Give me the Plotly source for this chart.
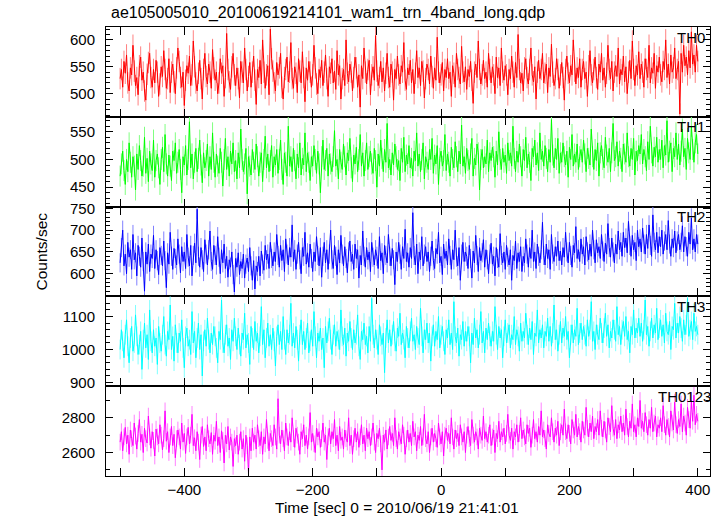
import plotly.graph_objects as go
from plotly.subplots import make_subplots

title_text = "ae105005010_20100619214101_wam1_trn_4band_long.qdp"
band_labels = ["TH0", "TH1", "TH2", "TH3", "TH0123"]
x_tick_vals = [-500, -400, -300, -200, -100, 0, 100, 200, 300, 400]
x_tick_text = ["", "\u2212400", "", "\u2212200", "", "0", "", "200", "", "400"]
bin_start = -500
bin_width = 2

th0 = [528, 545, 512, 560, 538, 572, 520, 505, 548, 535, 590, 542, 515, 530, 498,
       552, 568, 525, 540, 505, 488, 536, 558, 575, 530, 512, 545, 520, 562, 540,
       495, 518, 550, 532, 580, 545, 510, 528, 565, 502, 540, 555, 522, 500, 548,
       585, 560, 530, 512, 540, 478, 525, 552, 538, 570, 515, 535, 598, 550, 520,
       505, 538, 562, 528, 490, 545, 575, 532, 518, 555, 540, 510, 582, 548, 525,
       540, 500, 520, 565, 538, 552, 495, 530, 612, 545, 522, 508, 550, 575, 535,
       515, 548, 528, 492, 560, 540, 520, 585, 545, 505, 532, 558, 512, 540, 570,
       525, 480, 545, 530, 562, 518, 600, 540, 510, 535, 552, 498, 620, 565, 542,
       520, 505, 558, 535, 548, 575, 512, 490, 530, 545, 568, 522, 540, 595, 528,
       510, 550, 538, 502, 565, 542, 520, 578, 530, 485, 548, 525, 560, 540, 512,
       535, 590, 548, 518, 500, 545, 530, 562, 515, 540, 572, 528, 495, 550, 538,
       565, 520, 542, 508, 580, 535, 552, 490, 528, 545, 515, 600, 538, 522, 555,
       540, 505, 530, 568, 548, 512, 535, 475, 552, 528, 585, 540, 518, 545, 562,
       498, 535, 550, 525, 608, 542, 515, 530, 560, 522, 548, 505, 538, 575, 530,
       512, 555, 540, 488, 545, 528, 570, 535, 518, 552, 540, 595, 525, 508, 548,
       535, 562, 520, 545, 500, 538, 580, 530, 548, 515, 560, 542, 492, 528, 555,
       545, 518, 570, 532, 510, 548, 525, 605, 540, 520, 535, 558, 505, 545, 530,
       565, 528, 540, 495, 552, 538, 512, 575, 545, 530, 518, 588, 540, 522, 550,
       508, 545, 532, 560, 525, 482, 540, 555, 530, 598, 545, 518, 535, 562, 528,
       540, 512, 575, 545, 520, 550, 535, 500, 568, 530, 548, 515, 585, 540, 525,
       552, 535, 498, 545, 528, 570, 540, 512, 558, 530, 610, 545, 520, 538, 505,
       548, 565, 530, 518, 545, 585, 535, 522, 550, 490, 540, 562, 528, 545, 575,
       520, 538, 555, 502, 548, 532, 592, 540, 515, 528, 565, 545, 510, 535, 558,
       530, 488, 545, 570, 538, 520, 552, 535, 600, 542, 518, 548, 530, 565, 512,
       545, 560, 528, 540, 495, 552, 580, 535, 520, 545, 568, 530, 508, 555, 540,
       575, 525, 548, 512, 538, 590, 545, 528, 560, 505, 540, 552, 532, 585, 518,
       545, 535, 570, 522, 550, 500, 540, 562, 528, 598, 545, 515, 552, 535, 578,
       528, 555, 540, 512, 565, 545, 530, 590, 520, 548, 538, 575, 510, 552, 540,
       568, 535, 522, 560, 545, 600, 530, 555, 518, 572, 540, 548, 585, 528, 545,
       560, 462, 575, 540, 590, 552, 568, 535, 580, 548, 615, 555, 572, 540, 590,
       560]

th1 = [470, 492, 515, 480, 455, 500, 478, 530, 495, 468, 505, 488, 445, 510, 482,
       525, 498, 470, 488, 540, 475, 502, 460, 515, 492, 480, 535, 468, 498, 510,
       485, 455, 500, 522, 478, 545, 492, 470, 508, 488, 462, 515, 498, 530, 475,
       495, 518, 482, 440, 505, 490, 525, 472, 500, 568, 485, 510, 465, 495, 520,
       478, 502, 535, 490, 458, 512, 485, 498, 528, 470, 505, 482, 548, 495, 468,
       510, 488, 475, 520, 495, 452, 500, 538, 482, 505, 470, 515, 492, 530, 478,
       498, 465, 512, 485, 555, 500, 478, 492, 520, 438, 505, 488, 472, 518, 495,
       482, 528, 505, 470, 495, 512, 460, 500, 542, 485, 510, 478, 498, 525, 468,
       505, 490, 518, 475, 500, 535, 482, 455, 512, 495, 470, 560, 488, 505, 478,
       520, 498, 465, 510, 485, 530, 472, 502, 490, 548, 478, 512, 495, 462, 505,
       488, 525, 500, 475, 515, 492, 440, 505, 535, 482, 498, 520, 470, 510, 492,
       478, 505, 552, 488, 500, 465, 518, 495, 482, 528, 505, 472, 512, 498, 538,
       485, 460, 508, 492, 522, 478, 500, 545, 488, 512, 470, 498, 530, 482, 505,
       515, 492, 475, 520, 498, 450, 510, 488, 535, 502, 478, 518, 495, 565, 485,
       500, 472, 512, 490, 528, 505, 482, 498, 462, 520, 495, 540, 478, 508, 492,
       525, 485, 502, 470, 515, 498, 548, 488, 510, 478, 500, 530, 465, 505, 495,
       482, 518, 500, 538, 475, 508, 492, 525, 455, 502, 515, 488, 498, 545, 480,
       510, 495, 470, 522, 500, 485, 532, 505, 478, 515, 492, 562, 488, 505, 475,
       520, 498, 482, 510, 538, 470, 502, 490, 528, 512, 445, 500, 518, 485, 505,
       492, 535, 478, 512, 498, 522, 505, 468, 515, 490, 550, 500, 482, 520, 495,
       508, 475, 530, 498, 512, 488, 560, 502, 478, 515, 495, 528, 505, 470, 518,
       498, 540, 485, 510, 495, 462, 520, 505, 535, 490, 512, 480, 548, 500, 515,
       488, 525, 502, 478, 518, 495, 572, 508, 485, 520, 500, 538, 475, 512, 495,
       530, 505, 490, 515, 468, 522, 500, 545, 488, 510, 495, 528, 482, 505, 518,
       495, 535, 510, 478, 520, 502, 490, 555, 505, 482, 518, 498, 530, 470, 512,
       525, 500, 485, 540, 508, 495, 520, 478, 512, 565, 498, 505, 532, 488, 515,
       502, 478, 528, 510, 495, 548, 505, 488, 520, 500, 538, 472, 515, 498, 525,
       510, 545, 492, 518, 505, 480, 532, 500, 560, 512, 488, 522, 505, 540, 495,
       518, 500, 535, 485, 525, 508, 570, 495, 515, 530, 478, 520, 505, 548, 500,
       528, 490, 515, 555, 505, 520, 482, 538, 512, 500, 560, 518, 495, 530, 545,
       510]

th2 = [625, 660, 700, 618, 645, 600, 672, 638, 655, 610, 690, 632, 648, 595, 665,
       640, 615, 682, 628, 560, 650, 622, 668, 605, 645, 635, 688, 612, 655, 630,
       598, 660, 642, 618, 675, 630, 568, 648, 622, 695, 640, 610, 658, 635, 620,
       680, 645, 602, 662, 628, 650, 612, 690, 638, 618, 665, 595, 642, 670, 625,
       748, 640, 615, 660, 632, 605, 678, 645, 620, 655, 698, 628, 610, 665, 642,
       620, 685, 638, 600, 655, 625, 668, 612, 640, 592, 632, 615, 650, 598, 558,
       635, 615, 648, 598, 628, 612, 645, 590, 622, 636, 605, 660, 618, 585, 630,
       565, 618, 605, 640, 595, 652, 622, 608, 665, 632, 645, 612, 672, 635, 618,
       650, 628, 690, 642, 615, 665, 630, 655, 605, 680, 645, 620, 660, 638, 712,
       628, 655, 610, 645, 672, 632, 600, 660, 640, 695, 622, 648, 615, 668, 635,
       605, 650, 628, 685, 642, 618, 660, 592, 640, 672, 625, 655, 610, 645, 700,
       632, 612, 665, 640, 598, 655, 625, 688, 645, 618, 662, 635, 602, 650, 675,
       628, 645, 610, 668, 635, 655, 590, 642, 620, 698, 640, 615, 660, 632, 650,
       605, 672, 638, 620, 655, 640, 612, 685, 630, 648, 600, 665, 642, 625, 690,
       640, 618, 658, 632, 575, 650, 628, 672, 645, 610, 662, 635, 702, 628, 648,
       615, 660, 635, 740, 642, 620, 668, 600, 650, 632, 685, 618, 645, 662, 628,
       650, 605, 640, 675, 630, 612, 658, 645, 695, 625, 640, 598, 668, 635, 652,
       620, 680, 642, 610, 655, 632, 700, 638, 618, 660, 585, 645, 672, 628, 650,
       640, 612, 665, 635, 590, 652, 625, 688, 642, 605, 660, 630, 648, 678, 615,
       655, 632, 600, 645, 670, 622, 640, 595, 660, 635, 615, 692, 642, 625, 650,
       610, 665, 638, 620, 655, 585, 642, 630, 675, 612, 648, 628, 662, 605, 640,
       625, 680, 645, 615, 660, 635, 700, 628, 650, 612, 668, 640, 625, 655, 718,
       642, 620, 668, 635, 655, 610, 690, 645, 628, 662, 640, 675, 630, 652, 620,
       660, 638, 695, 650, 625, 672, 642, 615, 665, 648, 708, 635, 655, 628, 680,
       645, 662, 620, 685, 650, 632, 668, 640, 700, 655, 625, 678, 648, 662, 635,
       690, 652, 628, 670, 645, 715, 660, 638, 682, 650, 625, 668, 645, 698, 655,
       672, 640, 695, 660, 682, 648, 720, 665, 640, 688, 655, 672, 630, 700, 662,
       680, 650, 705, 668, 645, 690, 658, 712, 665, 640, 735, 672, 655, 695, 648,
       685, 662, 700, 645, 675, 690, 655, 722, 668, 640, 680, 660, 698, 648, 675,
       690, 655, 672, 710, 650, 685, 662, 640, 695, 668, 728, 655, 680, 650, 690,
       668]

th3 = [1000, 1060, 1025, 975, 1045, 1090, 1010, 960, 1035, 1070, 995, 1020, 1105, 1040, 985,
       1015, 1055, 940, 1030, 1080, 1005, 1045, 970, 1120, 1025, 990, 1060, 1010, 1035, 955,
       1070, 1020, 995, 1045, 1100, 1015, 980, 1055, 1030, 1135, 1000, 1040, 965, 1075, 1020,
       990, 1050, 1025, 1090, 1005, 945, 1040, 1065, 1010, 1030, 985, 1115, 1020, 1055, 975,
       1035, 1080, 1000, 1045, 920, 1025, 1060, 1010, 1095, 1030, 990, 1050, 1015, 1070, 1040,
       1005, 960, 1055, 1030, 1150, 1020, 990, 1045, 1075, 1010, 1035, 970, 1060, 1025, 1095,
       1040, 1000, 1065, 1015, 980, 1050, 1030, 1110, 1005, 1045, 1020, 955, 1070, 1035, 1000,
       1085, 1025, 1050, 990, 1040, 1130, 1015, 1060, 975, 1035, 1080, 1010, 1045, 1000, 1065,
       1025, 950, 1040, 1075, 1015, 1055, 1000, 1100, 1030, 985, 1060, 1020, 1045, 1140, 1010,
       1050, 1005, 1070, 1030, 965, 1045, 1090, 1015, 1055, 1000, 1035, 1080, 990, 1025, 1060,
       1010, 1115, 1040, 975, 1050, 1025, 1065, 1000, 1035, 945, 1070, 1020, 1055, 1095, 1030,
       985, 1045, 1075, 1010, 1055, 1030, 1000, 1120, 1040, 1015, 1065, 980, 1050, 1025, 1085,
       1035, 1000, 1060, 1020, 1045, 1105, 1010, 970, 1055, 1030, 1080, 1015, 1040, 990, 1070,
       1025, 1155, 1045, 1005, 1060, 1030, 985, 1075, 1040, 1015, 1050, 930, 1035, 1090, 1020,
       1060, 1010, 1045, 1085, 1025, 995, 1065, 1040, 1110, 1015, 1050, 1030, 975, 1070, 1035,
       1005, 1055, 1095, 1025, 1045, 1000, 1070, 1035, 1015, 1125, 1040, 990, 1060, 1030, 1080,
       1020, 1050, 965, 1040, 1075, 1010, 1055, 1030, 1100, 1005, 1045, 1070, 1025, 985, 1060,
       1035, 1090, 1015, 1050, 1000, 1145, 1040, 1020, 1065, 980, 1045, 1030, 1085, 1010, 1055,
       1025, 1070, 1040, 960, 1050, 1015, 1095, 1035, 1060, 1005, 1045, 1115, 1020, 1055, 990,
       1065, 1030, 1080, 1040, 1010, 1055, 1025, 1130, 1045, 1000, 1070, 1035, 1060, 975, 1040,
       1090, 1020, 1050, 1075, 1005, 1045, 1030, 1100, 1015, 1060, 1040, 995, 1080, 1025, 1055,
       1035, 1110, 1045, 1015, 1065, 1030, 1085, 985, 1050, 1040, 1120, 1020, 1060, 1035, 1075,
       1005, 1055, 1040, 1095, 1025, 1070, 1010, 1050, 1135, 1030, 1060, 995, 1045, 1085, 1020,
       1065, 1040, 1100, 1030, 1055, 975, 1045, 1075, 1020, 1060, 1040, 1125, 1015, 1050, 1080,
       1030, 1070, 1045, 1010, 1090, 1040, 1060, 1145, 1025, 1055, 1000, 1075, 1045, 1030, 1095,
       1050, 1020, 1065, 1110, 1040, 1075, 1005, 1055, 1035, 1090, 1060, 1025, 1130, 1045, 1070,
       1015, 1060, 1085, 1040, 1100, 1030, 1055, 990, 1070, 1045, 1120, 1035, 1065, 1050, 1095,
       1040, 1080, 1025, 1060, 1150, 1045, 1070, 1010, 1055, 1095, 1035, 1075, 1050, 1125, 1030,
       1065, 1090, 1040, 1075, 1020, 1110, 1055, 1045, 1085, 1000, 1070, 1060, 1140, 1035, 1080,
       1050, 1100, 1065, 1025, 1090, 1045, 1075, 1155, 1040, 1060, 1085, 1030, 1110, 1055, 1070,
       1045]

th0123 = [2660, 2720, 2610, 2690, 2745, 2650, 2700, 2590, 2730, 2680, 2640, 2770, 2695, 2620, 2710,
          2790, 2660, 2705, 2600, 2740, 2680, 2655, 2810, 2690, 2625, 2720, 2670, 2580, 2735, 2690,
          2650, 2760, 2700, 2615, 2680, 2840, 2665, 2720, 2600, 2690, 2750, 2640, 2705, 2570, 2680,
          2730, 2690, 2620, 2770, 2660, 2710, 2595, 2690, 2745, 2650, 2700, 2820, 2640, 2685, 2610,
          2720, 2660, 2560, 2700, 2750, 2635, 2690, 2610, 2760, 2680, 2650, 2715, 2590, 2700, 2665,
          2780, 2640, 2690, 2600, 2725, 2670, 2540, 2700, 2650, 2750, 2615, 2690, 2660, 2520, 2680,
          2640, 2700, 2590, 2660, 2720, 2620, 2680, 2550, 2700, 2640, 2480, 2690, 2610, 2740, 2660,
          2700, 2620, 2760, 2680, 2640, 2720, 2590, 2690, 2650, 2790, 2670, 2610, 2710, 2680, 2640,
          2760, 2690, 2620, 2910, 2700, 2650, 2730, 2680, 2610, 2770, 2690, 2640, 2720, 2660, 2800,
          2680, 2630, 2740, 2700, 2660, 2590, 2720, 2680, 2760, 2640, 2700, 2620, 2690, 2830, 2660,
          2710, 2650, 2600, 2740, 2690, 2720, 2630, 2680, 2770, 2660, 2700, 2560, 2690, 2740, 2650,
          2720, 2680, 2790, 2640, 2700, 2610, 2750, 2670, 2690, 2620, 2730, 2680, 2660, 2800, 2640,
          2700, 2590, 2680, 2740, 2660, 2720, 2630, 2690, 2760, 2650, 2700, 2610, 2740, 2680, 2720,
          2640, 2690, 2770, 2660, 2600, 2710, 2680, 2740, 2650, 2500, 2700, 2660, 2730, 2620, 2690,
          2750, 2670, 2710, 2640, 2800, 2680, 2620, 2720, 2690, 2650, 2760, 2700, 2590, 2680, 2730,
          2660, 2710, 2640, 2780, 2690, 2720, 2610, 2700, 2670, 2750, 2640, 2690, 2820, 2680, 2650,
          2720, 2600, 2690, 2740, 2660, 2710, 2680, 2630, 2770, 2690, 2650, 2720, 2580, 2700, 2740,
          2670, 2710, 2650, 2800, 2690, 2620, 2730, 2680, 2710, 2640, 2760, 2690, 2660, 2720, 2600,
          2700, 2750, 2680, 2640, 2790, 2700, 2660, 2720, 2690, 2620, 2740, 2700, 2670, 2810, 2680,
          2720, 2660, 2700, 2760, 2640, 2690, 2730, 2600, 2710, 2680, 2780, 2660, 2720, 2690, 2740,
          2650, 2710, 2820, 2700, 2670, 2740, 2620, 2720, 2690, 2760, 2660, 2710, 2800, 2680, 2730,
          2690, 2650, 2760, 2710, 2740, 2630, 2700, 2790, 2680, 2720, 2660, 2750, 2700, 2840, 2690,
          2730, 2680, 2620, 2760, 2710, 2690, 2800, 2720, 2660, 2740, 2700, 2780, 2640, 2720, 2760,
          2700, 2850, 2720, 2680, 2760, 2710, 2650, 2790, 2730, 2700, 2820, 2690, 2750, 2720, 2660,
          2780, 2730, 2700, 2860, 2740, 2690, 2770, 2720, 2810, 2680, 2750, 2720, 2790, 2700, 2840,
          2740, 2690, 2780, 2730, 2660, 2800, 2750, 2720, 2870, 2740, 2700, 2790, 2680, 2760, 2730,
          2810, 2720, 2770, 2700, 2850, 2750, 2690, 2780, 2740, 2880, 2720, 2760, 2690, 2800, 2750,
          2900, 2740, 2780, 2720, 2830, 2760, 2700, 2790, 2740, 2860, 2720, 2770, 2810, 2690, 2760,
          2740, 2800, 2720, 2870, 2760, 2700, 2790, 2750, 2690, 2840, 2770, 2730, 2890, 2760, 2710,
          2790, 2750, 2880, 2720, 2810, 2770, 2700, 2860, 2790, 2740, 2900, 2780, 2930, 2760, 2820,
          2780]

band_errors = [20, 19, 22, 30, 48]

series = [th0, th1, th2, th3, th0123]

line_colors = ["#ff0000", "#00ff00", "#0000ff", "#00ffff", "#ff00ff"]
err_colors = ["#ff8080", "#80ff80", "#8080ff", "#80ffff", "#ff80ff"]
y_ranges = [[457, 624], [415, 577], [548, 754], [889, 1161], [2465, 2982]]
y_major = [[500, 550, 600], [450, 500, 550], [600, 650, 700, 750], [900, 1000, 1100], [2600, 2800]]
y_minor = [10, 10, 10, 20, 100]
label_x = [364, 364, 364, 364, 335]

FONT = "Liberation Sans, Arial, Helvetica, sans-serif"

fig = make_subplots(rows=5, cols=1, shared_xaxes=True, vertical_spacing=0)

for i in range(5):
    time_sec = [bin_start + bin_width * k for k in range(len(series[i]))]
    # lighter error bars underneath
    fig.add_trace(go.Scatter(
        x=time_sec, y=series[i], mode="markers",
        marker=dict(size=1, color=err_colors[i], opacity=0),
        error_y=dict(type="constant", value=band_errors[i], color=err_colors[i],
                     thickness=1, width=0),
        showlegend=False, hoverinfo="skip"), row=i + 1, col=1)
    fig.add_trace(go.Scatter(
        x=time_sec, y=series[i], mode="lines",
        line=dict(color=line_colors[i], width=1),
        showlegend=False, hoverinfo="skip"), row=i + 1, col=1)
    fig.update_yaxes(
        row=i + 1, col=1, range=y_ranges[i], tickvals=y_major[i],
        ticks="inside", ticklen=7, tickcolor="black", tickwidth=1,
        showline=True, linecolor="black", linewidth=1, mirror="allticks",
        showgrid=False, zeroline=False,
        tickfont=dict(family=FONT, size=15, color="black"),
        ticklabelstandoff=7,
        minor=dict(ticks="inside", ticklen=4, dtick=y_minor[i], tickcolor="black",
                   showgrid=False, tick0=0))
    fig.update_xaxes(
        row=i + 1, col=1, range=[-522, 419], tickvals=x_tick_vals,
        ticktext=x_tick_text, showticklabels=(i == 4),
        ticks="inside", ticklen=8, tickcolor="black", tickwidth=1,
        showline=True, linecolor="black", linewidth=1, mirror="allticks",
        showgrid=False, zeroline=False,
        tickfont=dict(family=FONT, size=15, color="black"))
    yref = "y domain" if i == 0 else f"y{i + 1} domain"
    xref = "x" if i == 0 else f"x{i + 1}"
    fig.add_annotation(text=band_labels[i], x=label_x[i], xref=xref,
                       y=1, yref=yref, xanchor="left", yanchor="middle", yshift=-10,
                       showarrow=False, font=dict(family=FONT, size=15, color="black"))

fig.add_annotation(text=title_text, x=0.005, xref="paper", xanchor="left",
                   y=1, yref="paper", yanchor="middle", yshift=14, showarrow=False,
                   font=dict(family=FONT, size=16, color="black"))
fig.add_annotation(text="Time [sec] 0 = 2010/06/19 21:41:01", x=0.482, xref="paper",
                   xanchor="center", y=0, yref="paper", yanchor="middle", yshift=-31,
                   showarrow=False, font=dict(family=FONT, size=15.5, color="black"))
fig.add_annotation(text="Counts/sec", x=-0.1076, xref="paper", xanchor="center",
                   y=0.5, yref="paper", yanchor="middle", textangle=-90,
                   showarrow=False, font=dict(family=FONT, size=15.5, color="black"))

fig.update_layout(width=724, height=516, margin=dict(l=106, r=14, t=27, b=40),
                  plot_bgcolor="white", paper_bgcolor="white",
                  font=dict(family=FONT, size=15, color="black"))

# remove the default 8px page margin so the figure sits at the window's corner
fig.write_html("out.html", config={"displayModeBar": False},
               post_script="document.body.style.margin='0';document.body.style.overflow='hidden';")
